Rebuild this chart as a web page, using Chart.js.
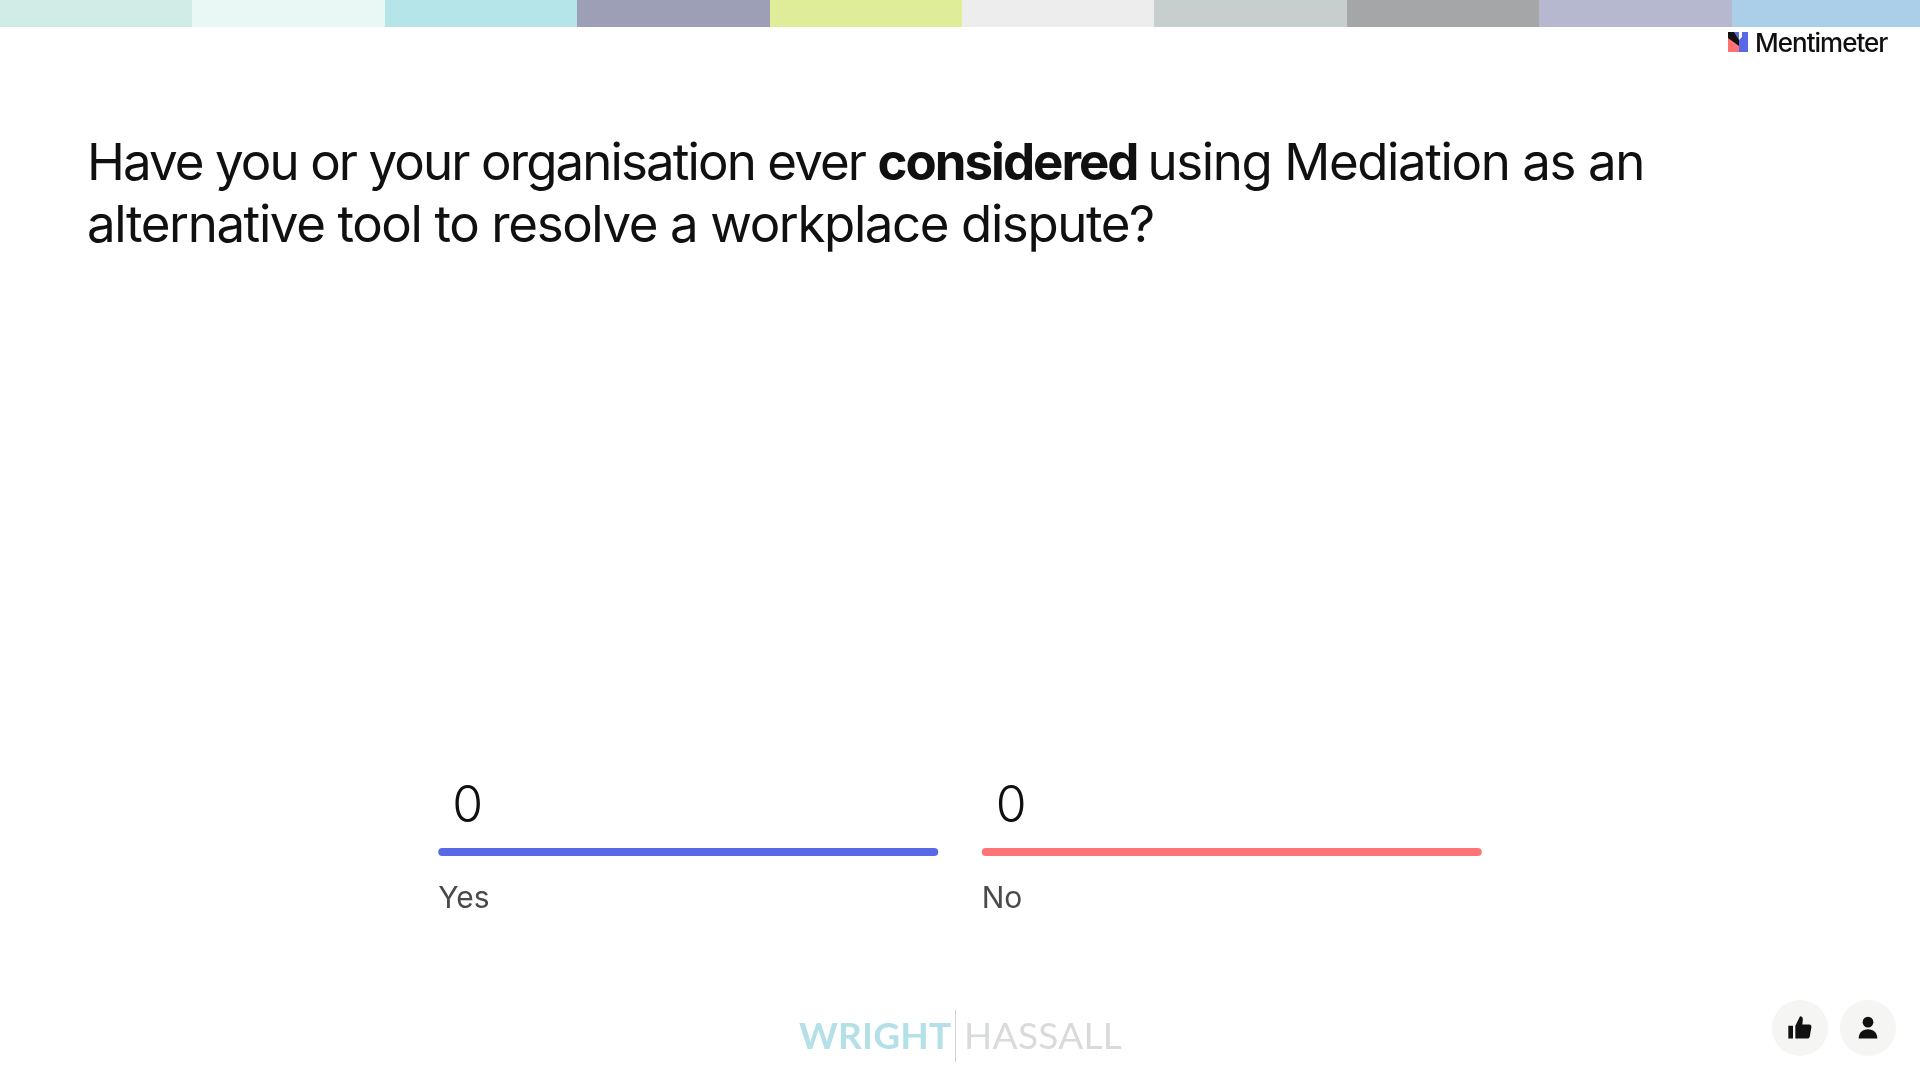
<!DOCTYPE html>
<html>
<head>
<meta charset="utf-8">
<title>Mediation poll</title>
<script src="https://cdn.jsdelivr.net/npm/chart.js@4/dist/chart.umd.js"></script>
<style>
    html, body { margin: 0; padding: 0; background: #fff; width: 1920px; height: 1080px; overflow: hidden; }
    #stripes { position: absolute; left: 0; top: 0; width: 1920px; height: 27px; display: flex; }
    #stripes div { flex: 0 0 192.4px; }
    #stripes div:last-child { flex: 1; }
    #chartBox { position: absolute; left: 0; top: 0; width: 1920px; height: 1080px; }
    #title { position: absolute; left: 87px; top: 131px; width: 1720px; font: 400 51px/61.5px Inter, sans-serif; letter-spacing: -1.4px; color: #101010; margin: 0; }
    #title b { font-weight: 700; letter-spacing: -2px; margin-right: -3px; }
    #title .tight { letter-spacing: -1.9px; }
    #brand { position: absolute; left: 1755px; top: 25px; font: 500 26px/36px Inter, sans-serif; letter-spacing: -1px; color: #101010; }
    #brandMark { position: absolute; left: 1728px; top: 32px; }
    #footerLogo { position: absolute; left: 799px; top: 1012px; font: 400 37px/46px Lato, sans-serif; white-space: nowrap; filter: blur(0.6px); }
    #footerLogo .w { color: #b4e0e8; font-weight: 700; letter-spacing: 0.2px; }
    #footerLogo .h { color: #d9dadb; letter-spacing: 0.3px; position: absolute; left: 165px; top: 0; }
    #footerLogo .bar { position: absolute; left: 156px; top: -2px; width: 1px; height: 52px; background: #cfd2d2; }
    .roundBtn { position: absolute; top: 1000px; width: 56px; height: 56px; border-radius: 50%; background: #f5f5f4; }
    .roundBtn svg { position: absolute; left: 14px; top: 14px; }
</style>
</head>
<body>
<div id="stripes"></div>
<div id="chartBox"><canvas id="myChart" width="1920" height="1080"></canvas></div>
<h1 id="title"><span class="tight">Have you or your organisation ever </span><b>considered</b> using Mediation as an<br>alternative tool to resolve a workplace dispute?</h1>
<svg id="brandMark" width="20" height="20" viewBox="0 0 20 20">
    <rect width="20" height="20" fill="#5769e6"/>
    <path d="M0 0H6L11 8V20H0Z" fill="#ff7171"/>
    <path d="M0 0H6L11 8V14L0 6Z" fill="#101010"/>
    <path d="M11 8L14 5L14 0H11Z" fill="#fff"/>
</svg>
<div id="brand">Mentimeter</div>
<div id="footerLogo"><span class="w">WRIGHT</span><span class="bar"></span><span class="h">HASSALL</span></div>
<div class="roundBtn" style="left:1772px">
    <svg width="28" height="28" viewBox="0 0 24 24" fill="#111"><path d="M2 10h4v11H2zM8 10l4-8c1.8 0 2.6 1.2 2.4 2.8L14 9h6c1.2 0 2 1 1.8 2.2l-1.4 8c-.2 1-1 1.8-2 1.8H8z"/></svg>
</div>
<div class="roundBtn" style="left:1840px">
    <svg width="28" height="28" viewBox="0 0 24 24" fill="#111"><circle cx="12" cy="7" r="4.6"/><path d="M4 21c0-5 3.2-8 8-8s8 3 8 8z"/></svg>
</div>
<script>
const stripeColors = ["#cfede6", "#e9f7f5", "#b5e5e9", "#9c9fb5", "#dfed98", "#ededed", "#c6cfce", "#a5a6a7", "#b6b8cf", "#abcfe8"];
const categories = ["Yes", "No"];
const votes = [0, 0];
const barColors = ["#5769e6", "#ff7477"];

stripeColors.forEach(function(c) {
    const d = document.createElement("div");
    d.style.background = c;
    document.getElementById("stripes").appendChild(d);
});

// the counts sit above each bar, at its left end
const countLabels = {
    id: "countLabels",
    afterDatasetsDraw(chart) {
        const ctx = chart.ctx;
        chart.getDatasetMeta(0).data.forEach(function(bar, i) {
            ctx.save();
            ctx.font = "300 50px Inter, sans-serif";
            ctx.fillStyle = "#101010";
            ctx.textAlign = "left";
            ctx.textBaseline = "alphabetic";
            ctx.fillText(votes[i], bar.x - bar.width / 2 + 14, bar.y - 26);
            ctx.restore();
        });
    }
};

const myChart = new Chart(document.getElementById("myChart"), {
    type: "bar",
    data: {
        labels: categories,
        datasets: [{
            data: votes,
            backgroundColor: barColors,
            minBarLength: 8,
            borderRadius: 4,
            borderSkipped: false,
            categoryPercentage: 1,
            barPercentage: 0.92
        }]
    },
    options: {
        responsive: false,
        maintainAspectRatio: false,
        animation: false,
        layout: { padding: { left: 416.5, right: 416.5, top: 300, bottom: 0 } },
        plugins: { legend: { display: false }, tooltip: { enabled: false } },
        scales: {
            x: {
                grid: { display: false },
                border: { display: false },
                ticks: {
                    align: "start",
                    labelOffset: -250,
                    padding: 17,
                    color: "#4a4a4a",
                    font: { family: "Inter", size: 30 }
                },
                afterFit(axis) { axis.height = 1080 - 856; }
            },
            y: { display: false, min: 0, max: 10 }
        }
    },
    plugins: [countLabels]
});
</script>
</body>
</html>
